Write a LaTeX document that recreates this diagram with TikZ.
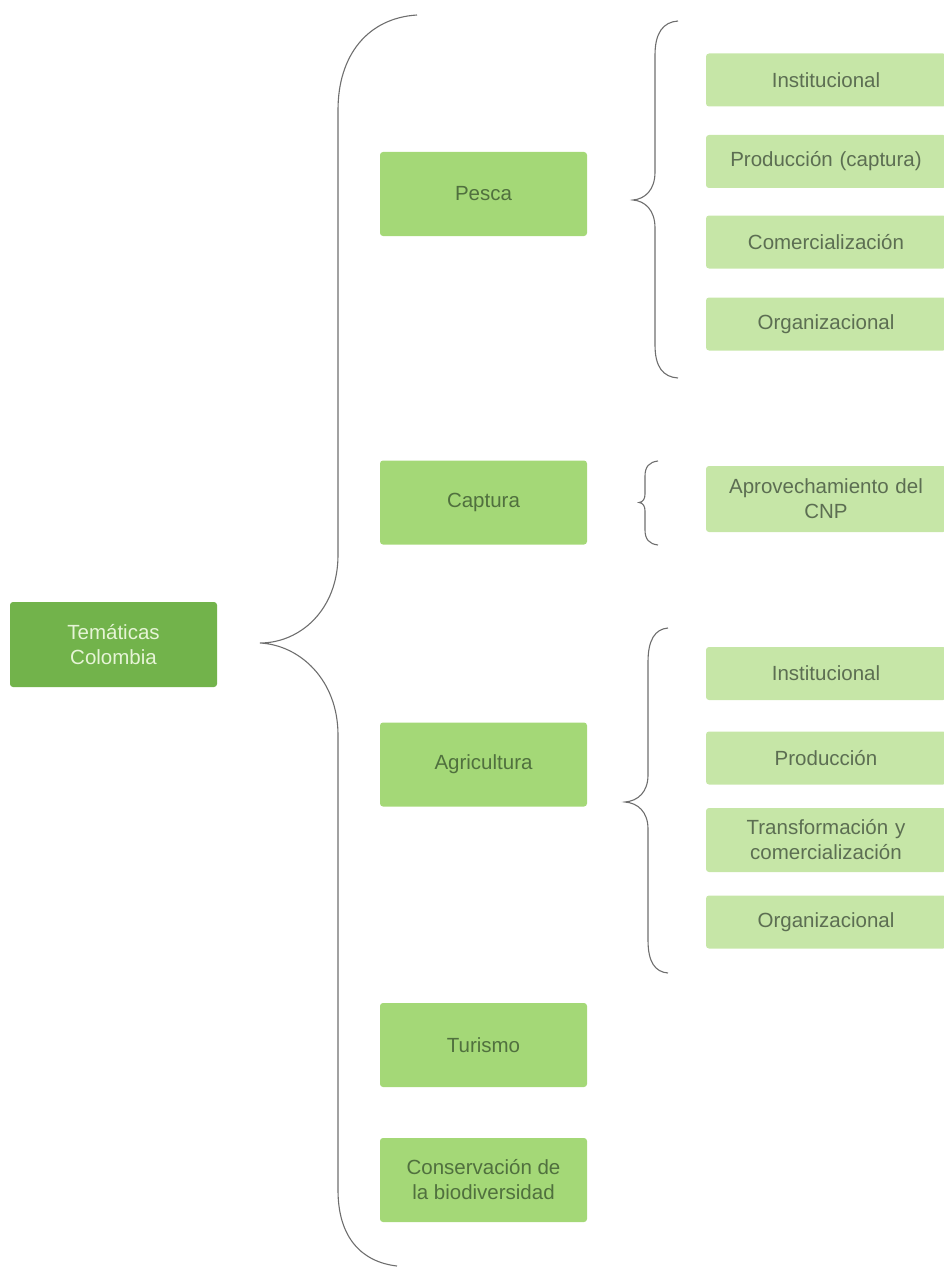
\documentclass[tikz,border=0pt]{standalone}
\usepackage{fontspec}
\setmainfont{Liberation Sans}
\definecolor{rootfill}{HTML}{72B34B}
\definecolor{roottext}{HTML}{E6F4D6}
\definecolor{midfill}{HTML}{A4D877}
\definecolor{midtext}{HTML}{50703E}
\definecolor{subfill}{HTML}{C6E6A7}
\definecolor{subtext}{HTML}{5C6E52}
\definecolor{bracecol}{HTML}{6E6E6E}
\begin{document}
\begin{tikzpicture}[x=1pt,y=-1pt,
  box/.style={rectangle,rounded corners=3pt,inner sep=0pt,align=center,
    font=\fontsize{20.5}{25}\selectfont},
  rootbox/.style={box,fill=rootfill,text=roottext,minimum width=207pt,minimum height=85pt},
  midbox/.style={box,fill=midfill,text=midtext,minimum width=207pt,minimum height=84pt},
  subbox/.style={box,fill=subfill,text=subtext,minimum width=240pt,text width=230pt},
  bracepath/.style={draw=bracecol,line width=1.1pt}]
\useasboundingbox (0,0) rectangle (943,1268);

% root
\node[rootbox] (root) at (113.5,644.5) {Temáticas\\Colombia};

% middle column
\node[midbox] (pesca) at (483.5,194) {Pesca};
\node[midbox] (captura) at (483.5,502.5) {Captura};
\node[midbox] (agri) at (483.5,764.5) {Agricultura};
\node[midbox] (turismo) at (483.5,1045) {Turismo};
\node[midbox] (conserv) at (483.5,1180) {Conservación de\\la biodiversidad};

% right column (pesca)
\node[subbox,minimum height=53pt] (p1) at (826,80) {Institucional};
\node[subbox,minimum height=53pt] (p2) at (826,161.5) {Producción (captura)};
\node[subbox,minimum height=53pt] (p3) at (826,242) {Comercialización};
\node[subbox,minimum height=53pt] (p4) at (826,324) {Organizacional};

% right column (captura)
\node[subbox,minimum height=66pt] (c1) at (826,499) {Aprovechamiento del\\CNP};

% right column (agricultura)
\node[subbox,minimum height=53pt] (a1) at (826,673.5) {Institucional};
\node[subbox,minimum height=53pt] (a2) at (826,758) {Producción};
\node[subbox,minimum height=64pt] (a3) at (826,840) {Transformación y\\comercialización};
\node[subbox,minimum height=53pt] (a4) at (826,922) {Organizacional};

% big brace
\path[bracepath] (417,15) .. controls (368,18) and (338,55) .. (338,110)
  -- (338,555) .. controls (338,610) and (300,643) .. (260,643)
  .. controls (300,645) and (338,680) .. (338,735)
  -- (338,1190) .. controls (338,1238) and (362,1262) .. (397,1266);

% pesca brace
\path[bracepath] (678,21) .. controls (663,22) and (655,33) .. (655,55)
  -- (655,172) .. controls (655,190) and (645,199) .. (633,200)
  .. controls (645,201) and (655,210) .. (655,228)
  -- (655,345) .. controls (655,367) and (663,377) .. (678,378);

% captura brace
\path[bracepath] (658,461) .. controls (649,462) and (645,467) .. (645,476)
  -- (645,494) .. controls (645,499) and (643,502) .. (639,502.5)
  .. controls (643,503) and (645,506) .. (645,511)
  -- (645,530) .. controls (645,539) and (649,544) .. (658,545);

% agricultura brace
\path[bracepath] (668,628) .. controls (655,629) and (648,640) .. (648,662)
  -- (648,775) .. controls (648,792) and (638,801) .. (625,802)
  .. controls (638,803) and (648,812) .. (648,829)
  -- (648,940) .. controls (648,962) and (655,972) .. (668,973);
\end{tikzpicture}
\end{document}
